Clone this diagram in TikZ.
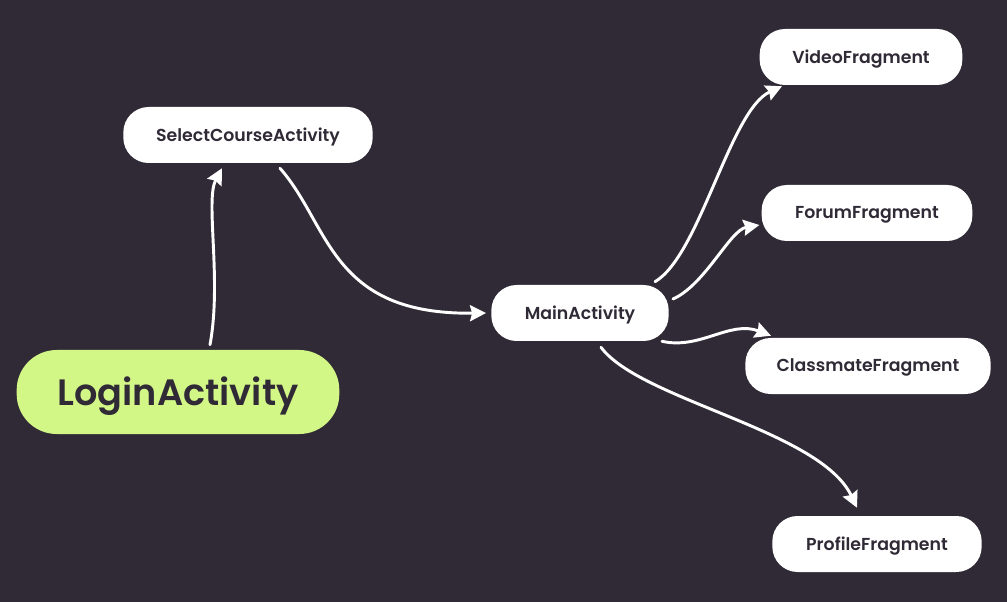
\documentclass[tikz,border=0pt]{standalone}
\usepackage{fontspec}
\setmainfont{Poppins}[BoldFont={Poppins SemiBold}]
\usetikzlibrary{arrows.meta}
\definecolor{bgdark}{HTML}{2F2A35}
\definecolor{limegreen}{HTML}{D3F786}
\begin{document}
\begin{tikzpicture}[x=0.75pt,y=-0.75pt,>={Stealth[length=12pt,width=12pt,inset=1.5pt]},
		screen/.style={fill=white,text=bgdark,rounded corners=19pt,minimum height=42pt,inner sep=0pt,text depth=1pt,font=\fontsize{13}{15}\selectfont\bfseries},
		start/.style={fill=limegreen,text=bgdark,rounded corners=30pt,minimum height=63pt,minimum width=242pt,inner sep=0pt,text depth=2pt,font=\fontsize{27.5}{30}\selectfont\bfseries},
		flow/.style={->,white,line width=2.2pt,line cap=round}]
				\fill[bgdark] (0,0) rectangle (1007,602);
				\node[start] (login) at (178,392) {LoginActivity};
				\node[screen,minimum width=187pt] (select) at (248,135) {SelectCourseActivity};
				\node[screen,minimum width=133pt] (main) at (580,313) {MainActivity};
				\node[screen,minimum width=152pt] (video) at (861,57) {VideoFragment};
				\node[screen,minimum width=158pt] (forum) at (867,213) {ForumFragment};
				\node[screen,minimum width=184pt] (classmate) at (868,366) {ClassmateFragment};
				\node[screen,minimum width=157pt] (profile) at (877,544) {ProfileFragment};
				% arrows between the screens
				\draw[flow] ([shift={(32,-5)}]login.north) .. controls (222,280) and (205,200) .. ([shift={(-26,5)}]select.south);
				\draw[flow] ([shift={(32,5)}]select.south) .. controls (330,225) and (330,315) .. ([shift={(-5,0)}]main.west);
				\draw[flow] ([shift={(75,-3)}]main.north) .. controls (700,255) and (730,110) .. ([shift={(-79,1)}]video.south);
				\draw[flow] ([shift={(4,-14)}]main.east) .. controls (705,285) and (730,230) .. ([shift={(-2,12)}]forum.west);
				\draw[flow] ([shift={(82,0)}]main.south) .. controls (700,350) and (730,320) .. ([shift={(-97,-2)}]classmate.north);
				\draw[flow] ([shift={(21,6)}]main.south) .. controls (640,400) and (820,430) .. ([shift={(-20,-8)}]profile.north);
		\end{tikzpicture}
\end{document}
